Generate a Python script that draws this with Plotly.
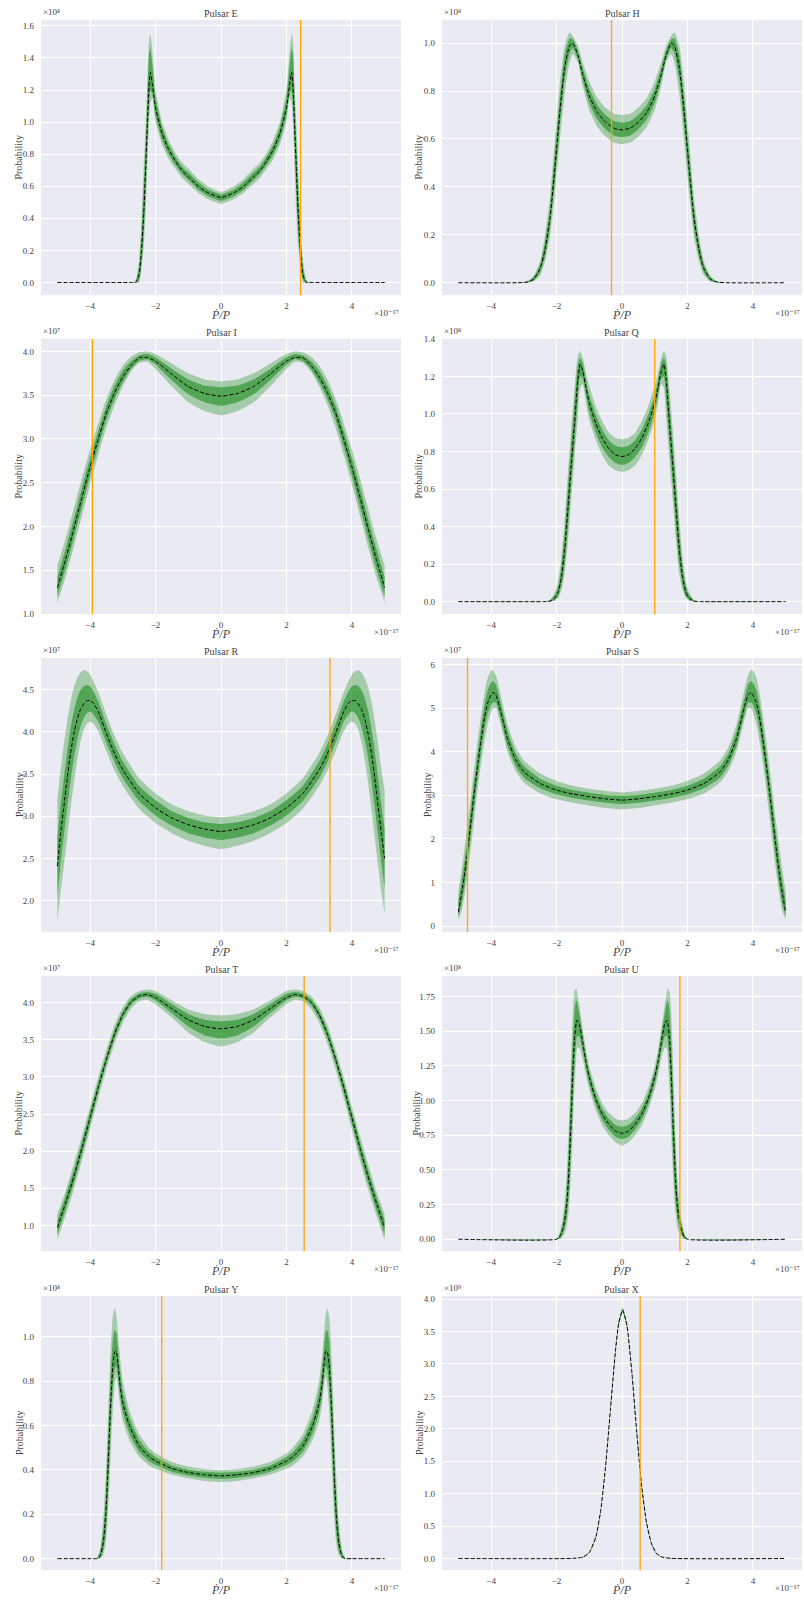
import plotly.graph_objects as go
from plotly.subplots import make_subplots

# ---------------- data (x in units of 1e-17, y in units of 10^exp) ----------------
panel_names = ["Pulsar E", "Pulsar H", "Pulsar I", "Pulsar Q", "Pulsar R",
               "Pulsar S", "Pulsar T", "Pulsar U", "Pulsar Y", "Pulsar X"]
orange_x = [2.43, -0.32, -3.93, 1.0, 3.33, -4.72, 2.54, 1.77, -1.81, 0.555]
y_exponents = ["⁸", "⁸", "⁷", "⁸", "⁷", "⁷", "⁷", "⁸", "⁸", "⁹"]
x_exponent = "×10⁻¹⁷"
x_ticks = [-4, -2, 0, 2, 4]

E_x = [-5, -3, -2.7, -2.6, -2.5, -2.43, -2.36, -2.3, -2.25, -2.2, -2.16, -2.1, -2.0, -1.8, -1.6, -1.4, -1.2, -1.0, -0.7, -0.4,
       0, 0.4, 0.7, 1.0, 1.2, 1.4, 1.6, 1.8, 2.0, 2.1, 2.16, 2.2, 2.25, 2.3, 2.36, 2.43, 2.5, 2.6, 2.7, 3, 5]
E_med = [0, 0, 0, 0, 0.05, 0.2, 0.43, 0.72, 0.98, 1.22, 1.31, 1.24, 1.09, 0.93, 0.83, 0.76, 0.70, 0.66, 0.60, 0.56,
         0.53, 0.56, 0.60, 0.66, 0.70, 0.76, 0.83, 0.93, 1.09, 1.24, 1.31, 1.22, 0.98, 0.72, 0.43, 0.2, 0.05, 0, 0, 0, 0]
E_out_hi = [0, 0, 0, 0.02, 0.15, 0.38, 0.72, 1.0, 1.25, 1.50, 1.55, 1.45, 1.2, 1.0, 0.89, 0.81, 0.75, 0.71, 0.645, 0.60,
            0.565, 0.60, 0.645, 0.71, 0.75, 0.81, 0.89, 1.0, 1.2, 1.45, 1.55, 1.50, 1.25, 1.0, 0.72, 0.38, 0.15, 0.02, 0, 0, 0]
E_out_lo = [0, 0, 0, 0, 0, 0.08, 0.22, 0.45, 0.72, 0.98, 1.12, 1.15, 1.0, 0.86, 0.77, 0.71, 0.655, 0.615, 0.56, 0.52,
            0.49, 0.52, 0.56, 0.615, 0.655, 0.71, 0.77, 0.86, 1.0, 1.15, 1.12, 0.98, 0.72, 0.45, 0.22, 0.08, 0, 0, 0, 0, 0]
E_in_hi = [0, 0, 0, 0.01, 0.1, 0.3, 0.6, 0.88, 1.15, 1.42, 1.46, 1.36, 1.15, 0.97, 0.86, 0.785, 0.725, 0.685, 0.625, 0.58,
           0.55, 0.58, 0.625, 0.685, 0.725, 0.785, 0.86, 0.97, 1.15, 1.36, 1.46, 1.42, 1.15, 0.88, 0.6, 0.3, 0.1, 0.01, 0, 0, 0]
E_in_lo = [0, 0, 0, 0, 0.02, 0.12, 0.3, 0.57, 0.85, 1.08, 1.2, 1.18, 1.04, 0.89, 0.80, 0.735, 0.68, 0.64, 0.58, 0.54,
           0.51, 0.54, 0.58, 0.64, 0.68, 0.735, 0.80, 0.89, 1.04, 1.18, 1.2, 1.08, 0.85, 0.57, 0.3, 0.12, 0.02, 0, 0, 0, 0]

H_x = [-5, -3.2, -2.9, -2.7, -2.5, -2.35, -2.2, -2.05, -1.9, -1.75, -1.6, -1.5, -1.35, -1.2, -1.0, -0.75, -0.5, -0.25,
       0, 0.25, 0.5, 0.75, 1.0, 1.2, 1.35, 1.5, 1.6, 1.75, 1.9, 2.05, 2.2, 2.35, 2.5, 2.7, 2.9, 3.2, 5]
H_med = [0, 0, 0.003, 0.015, 0.06, 0.14, 0.27, 0.48, 0.71, 0.90, 0.99, 1.0, 0.95, 0.87, 0.78, 0.71, 0.67, 0.645,
         0.638, 0.645, 0.67, 0.71, 0.78, 0.87, 0.95, 1.0, 0.99, 0.90, 0.71, 0.48, 0.27, 0.14, 0.06, 0.015, 0.003, 0, 0]
H_out_hi = [0, 0, 0.006, 0.03, 0.09, 0.2, 0.36, 0.6, 0.83, 0.99, 1.045, 1.03, 0.99, 0.92, 0.84, 0.77, 0.73, 0.705,
            0.70, 0.705, 0.73, 0.77, 0.84, 0.92, 0.99, 1.03, 1.045, 0.99, 0.83, 0.6, 0.36, 0.2, 0.09, 0.03, 0.006, 0, 0]
H_out_lo = [0, 0, 0, 0.005, 0.03, 0.09, 0.19, 0.37, 0.59, 0.79, 0.92, 0.955, 0.92, 0.82, 0.72, 0.65, 0.61, 0.585,
            0.578, 0.585, 0.61, 0.65, 0.72, 0.82, 0.92, 0.955, 0.92, 0.79, 0.59, 0.37, 0.19, 0.09, 0.03, 0.005, 0, 0, 0]
H_in_hi = [0, 0, 0.004, 0.022, 0.075, 0.17, 0.31, 0.54, 0.77, 0.95, 1.02, 1.015, 0.97, 0.895, 0.81, 0.74, 0.70, 0.675,
           0.668, 0.675, 0.70, 0.74, 0.81, 0.895, 0.97, 1.015, 1.02, 0.95, 0.77, 0.54, 0.31, 0.17, 0.075, 0.022, 0.004, 0, 0]
H_in_lo = [0, 0, 0.001, 0.009, 0.045, 0.11, 0.23, 0.42, 0.65, 0.85, 0.96, 0.98, 0.935, 0.845, 0.75, 0.68, 0.64, 0.615,
           0.608, 0.615, 0.64, 0.68, 0.75, 0.845, 0.935, 0.98, 0.96, 0.85, 0.65, 0.42, 0.23, 0.11, 0.045, 0.009, 0.001, 0, 0]

I_x = [-5, -4.75, -4.5, -4.25, -4.0, -3.75, -3.5, -3.25, -3.0, -2.75, -2.5, -2.25, -2.0, -1.5, -1.0, -0.5,
       0, 0.5, 1.0, 1.5, 2.0, 2.25, 2.5, 2.75, 3.0, 3.25, 3.5, 3.75, 4.0, 4.25, 4.5, 4.75, 5]
I_med = [1.30, 1.62, 1.97, 2.33, 2.68, 3.0, 3.3, 3.53, 3.71, 3.84, 3.93, 3.93, 3.89, 3.74, 3.60, 3.52,
         3.49, 3.52, 3.60, 3.74, 3.89, 3.93, 3.93, 3.84, 3.71, 3.53, 3.3, 3.0, 2.68, 2.33, 1.97, 1.62, 1.30]
I_out_hi = [1.55, 1.86, 2.2, 2.55, 2.88, 3.18, 3.46, 3.68, 3.84, 3.94, 3.99, 4.0, 3.97, 3.86, 3.75, 3.68,
            3.66, 3.68, 3.75, 3.86, 3.97, 4.0, 3.99, 3.94, 3.84, 3.68, 3.46, 3.18, 2.88, 2.55, 2.2, 1.86, 1.55]
I_out_lo = [1.13, 1.42, 1.76, 2.12, 2.48, 2.82, 3.13, 3.39, 3.6, 3.77, 3.87, 3.88, 3.8, 3.6, 3.42, 3.32,
            3.27, 3.32, 3.42, 3.6, 3.8, 3.88, 3.87, 3.77, 3.6, 3.39, 3.13, 2.82, 2.48, 2.12, 1.76, 1.42, 1.13]
I_in_hi = [1.42, 1.74, 2.08, 2.44, 2.78, 3.09, 3.38, 3.61, 3.78, 3.89, 3.955, 3.97, 3.93, 3.8, 3.68, 3.61,
           3.59, 3.61, 3.68, 3.8, 3.93, 3.97, 3.955, 3.89, 3.78, 3.61, 3.38, 3.09, 2.78, 2.44, 2.08, 1.74, 1.42]
I_in_lo = [1.2, 1.51, 1.86, 2.22, 2.58, 2.91, 3.22, 3.46, 3.65, 3.8, 3.89, 3.91, 3.85, 3.67, 3.51, 3.42,
           3.38, 3.42, 3.51, 3.67, 3.85, 3.91, 3.89, 3.8, 3.65, 3.46, 3.22, 2.91, 2.58, 2.22, 1.86, 1.51, 1.2]

Q_x = [-5, -2.4, -2.2, -2.05, -1.95, -1.85, -1.75, -1.65, -1.55, -1.45, -1.35, -1.28, -1.2, -1.1, -1.0, -0.8, -0.6, -0.4, -0.2,
       0, 0.2, 0.4, 0.6, 0.8, 1.0, 1.1, 1.2, 1.28, 1.35, 1.45, 1.55, 1.65, 1.75, 1.85, 1.95, 2.05, 2.2, 2.4, 5]
Q_med = [0, 0, 0.002, 0.02, 0.05, 0.13, 0.28, 0.5, 0.73, 0.95, 1.18, 1.265, 1.23, 1.14, 1.06, 0.95, 0.87, 0.815, 0.783,
         0.773, 0.783, 0.815, 0.87, 0.95, 1.06, 1.14, 1.23, 1.265, 1.18, 0.95, 0.73, 0.5, 0.28, 0.13, 0.05, 0.02, 0.002, 0, 0]
Q_out_hi = [0, 0, 0.01, 0.05, 0.11, 0.24, 0.44, 0.69, 0.92, 1.14, 1.31, 1.335, 1.3, 1.22, 1.15, 1.04, 0.96, 0.90, 0.872,
            0.865, 0.872, 0.90, 0.96, 1.04, 1.15, 1.22, 1.3, 1.335, 1.31, 1.14, 0.92, 0.69, 0.44, 0.24, 0.11, 0.05, 0.01, 0, 0]
Q_out_lo = [0, 0, 0, 0.005, 0.02, 0.06, 0.15, 0.32, 0.54, 0.76, 0.98, 1.14, 1.16, 1.06, 0.97, 0.86, 0.78, 0.725, 0.70,
            0.692, 0.70, 0.725, 0.78, 0.86, 0.97, 1.06, 1.16, 1.14, 0.98, 0.76, 0.54, 0.32, 0.15, 0.06, 0.02, 0.005, 0, 0, 0]
Q_in_hi = [0, 0, 0.006, 0.035, 0.08, 0.19, 0.37, 0.61, 0.84, 1.06, 1.26, 1.3, 1.27, 1.18, 1.1, 0.995, 0.915, 0.86, 0.83,
           0.822, 0.83, 0.86, 0.915, 0.995, 1.1, 1.18, 1.27, 1.3, 1.26, 1.06, 0.84, 0.61, 0.37, 0.19, 0.08, 0.035, 0.006, 0, 0]
Q_in_lo = [0, 0, 0, 0.01, 0.03, 0.09, 0.2, 0.4, 0.63, 0.85, 1.08, 1.2, 1.19, 1.1, 1.01, 0.9, 0.82, 0.77, 0.738,
           0.728, 0.738, 0.77, 0.82, 0.9, 1.01, 1.1, 1.19, 1.2, 1.08, 0.85, 0.63, 0.4, 0.2, 0.09, 0.03, 0.01, 0, 0, 0]

R_x = [-5, -4.9, -4.8, -4.7, -4.6, -4.5, -4.4, -4.3, -4.2, -4.1, -4.0, -3.9, -3.75, -3.5, -3.25, -3.0, -2.5, -2.0, -1.5, -1.0, -0.5,
       0, 0.5, 1.0, 1.5, 2.0, 2.5, 3.0, 3.25, 3.5, 3.75, 3.9, 4.0, 4.1, 4.2, 4.3, 4.4, 4.5, 4.6, 4.7, 4.8, 4.9, 5]
R_med = [2.41, 2.8, 3.12, 3.45, 3.74, 3.97, 4.14, 4.26, 4.33, 4.37, 4.37, 4.34, 4.24, 3.98, 3.74, 3.55, 3.27, 3.10, 2.98, 2.90, 2.85,
         2.82, 2.85, 2.90, 2.98, 3.10, 3.27, 3.55, 3.74, 3.98, 4.24, 4.34, 4.37, 4.37, 4.33, 4.26, 4.14, 3.97, 3.74, 3.45, 3.12, 2.8, 2.5]
R_out_hi = [3.2, 3.55, 3.85, 4.12, 4.35, 4.52, 4.63, 4.70, 4.73, 4.72, 4.68, 4.6, 4.47, 4.2, 3.95, 3.75, 3.45, 3.27, 3.14, 3.06, 3.01,
            2.99, 3.01, 3.06, 3.14, 3.27, 3.45, 3.75, 3.95, 4.2, 4.47, 4.6, 4.68, 4.72, 4.73, 4.70, 4.63, 4.52, 4.35, 4.12, 3.85, 3.55, 3.3]
R_out_lo = [1.76, 2.1, 2.42, 2.75, 3.08, 3.38, 3.65, 3.87, 4.02, 4.1, 4.12, 4.1, 4.01, 3.77, 3.54, 3.36, 3.09, 2.92, 2.8, 2.71, 2.65,
            2.61, 2.65, 2.71, 2.8, 2.92, 3.09, 3.36, 3.54, 3.77, 4.01, 4.1, 4.12, 4.1, 4.02, 3.87, 3.65, 3.38, 3.08, 2.75, 2.42, 2.1, 1.85]
R_in_hi = [2.75, 3.13, 3.45, 3.76, 4.03, 4.24, 4.39, 4.49, 4.54, 4.555, 4.54, 4.48, 4.36, 4.09, 3.85, 3.65, 3.36, 3.19, 3.06, 2.98, 2.93,
           2.91, 2.93, 2.98, 3.06, 3.19, 3.36, 3.65, 3.85, 4.09, 4.36, 4.48, 4.54, 4.555, 4.54, 4.49, 4.39, 4.24, 4.03, 3.76, 3.45, 3.13, 2.85]
R_in_lo = [2.05, 2.45, 2.78, 3.1, 3.41, 3.68, 3.89, 4.05, 4.16, 4.22, 4.24, 4.21, 4.12, 3.87, 3.64, 3.45, 3.18, 3.01, 2.89, 2.8, 2.75,
           2.72, 2.75, 2.8, 2.89, 3.01, 3.18, 3.45, 3.64, 3.87, 4.12, 4.21, 4.24, 4.22, 4.16, 4.05, 3.89, 3.68, 3.41, 3.1, 2.78, 2.45, 2.15]

S_x = [-5, -4.9, -4.8, -4.7, -4.6, -4.5, -4.4, -4.3, -4.2, -4.1, -4.0, -3.95, -3.85, -3.75, -3.6, -3.5, -3.25, -3.0, -2.5, -2.0, -1.5, -1.0, -0.5,
       0, 0.5, 1.0, 1.5, 2.0, 2.5, 3.0, 3.25, 3.5, 3.6, 3.75, 3.85, 3.95, 4.0, 4.1, 4.2, 4.3, 4.4, 4.5, 4.6, 4.7, 4.8, 4.9, 5]
S_med = [0.32, 0.75, 1.25, 1.85, 2.5, 3.15, 3.75, 4.3, 4.8, 5.13, 5.3, 5.36, 5.3, 5.05, 4.6, 4.3, 3.82, 3.54, 3.27, 3.12, 3.03, 2.97, 2.92,
         2.89, 2.92, 2.97, 3.03, 3.12, 3.27, 3.54, 3.82, 4.3, 4.6, 5.05, 5.3, 5.36, 5.3, 5.13, 4.8, 4.3, 3.75, 3.15, 2.5, 1.85, 1.25, 0.75, 0.32]
S_out_hi = [0.8, 1.3, 1.85, 2.45, 3.1, 3.72, 4.3, 4.85, 5.35, 5.7, 5.86, 5.87, 5.75, 5.45, 4.95, 4.63, 4.1, 3.8, 3.5, 3.33, 3.22, 3.15, 3.1,
            3.07, 3.1, 3.15, 3.22, 3.33, 3.5, 3.8, 4.1, 4.63, 4.95, 5.45, 5.75, 5.87, 5.86, 5.7, 5.35, 4.85, 4.3, 3.72, 3.1, 2.45, 1.85, 1.3, 0.8]
S_out_lo = [0.15, 0.35, 0.75, 1.3, 1.9, 2.55, 3.2, 3.75, 4.25, 4.65, 4.9, 4.98, 5.0, 4.75, 4.3, 4.0, 3.56, 3.3, 3.04, 2.91, 2.83, 2.77, 2.71,
            2.68, 2.71, 2.77, 2.83, 2.91, 3.04, 3.3, 3.56, 4.0, 4.3, 4.75, 5.0, 4.98, 4.9, 4.65, 4.25, 3.75, 3.2, 2.55, 1.9, 1.3, 0.75, 0.35, 0.15]
S_in_hi = [0.6, 1.02, 1.55, 2.15, 2.8, 3.42, 4.02, 4.57, 5.08, 5.42, 5.58, 5.62, 5.53, 5.25, 4.78, 4.47, 3.96, 3.67, 3.38, 3.22, 3.12, 3.06, 3.01,
           2.99, 3.01, 3.06, 3.12, 3.22, 3.38, 3.67, 3.96, 4.47, 4.78, 5.25, 5.53, 5.62, 5.58, 5.42, 5.08, 4.57, 4.02, 3.42, 2.8, 2.15, 1.55, 1.02, 0.6]
S_in_lo = [0.22, 0.52, 0.98, 1.56, 2.2, 2.85, 3.47, 4.02, 4.52, 4.88, 5.07, 5.13, 5.12, 4.88, 4.43, 4.13, 3.68, 3.41, 3.16, 3.02, 2.94, 2.88, 2.83,
           2.8, 2.83, 2.88, 2.94, 3.02, 3.16, 3.41, 3.68, 4.13, 4.43, 4.88, 5.12, 5.13, 5.07, 4.88, 4.52, 4.02, 3.47, 2.85, 2.2, 1.56, 0.98, 0.52, 0.22]

T_x = [-5, -4.75, -4.5, -4.25, -4.0, -3.75, -3.5, -3.25, -3.0, -2.75, -2.5, -2.25, -2.0, -1.5, -1.0, -0.5,
       0, 0.5, 1.0, 1.5, 2.0, 2.25, 2.5, 2.75, 3.0, 3.25, 3.5, 3.75, 4.0, 4.25, 4.5, 4.75, 5]
T_med = [0.97, 1.3, 1.65, 2.04, 2.45, 2.86, 3.24, 3.58, 3.84, 4.01, 4.09, 4.11, 4.07, 3.92, 3.77, 3.68,
         3.65, 3.68, 3.77, 3.92, 4.07, 4.11, 4.09, 4.01, 3.84, 3.58, 3.24, 2.86, 2.45, 2.04, 1.65, 1.3, 0.97]
T_out_hi = [1.15, 1.46, 1.82, 2.2, 2.6, 3.0, 3.37, 3.7, 3.94, 4.09, 4.16, 4.18, 4.16, 4.03, 3.91, 3.85,
            3.83, 3.85, 3.91, 4.03, 4.16, 4.18, 4.16, 4.09, 3.94, 3.7, 3.37, 3.0, 2.6, 2.2, 1.82, 1.46, 1.15]
T_out_lo = [0.8, 1.13, 1.48, 1.87, 2.29, 2.71, 3.1, 3.45, 3.73, 3.92, 4.02, 4.04, 3.98, 3.8, 3.6, 3.47,
            3.41, 3.47, 3.6, 3.8, 3.98, 4.04, 4.02, 3.92, 3.73, 3.45, 3.1, 2.71, 2.29, 1.87, 1.48, 1.13, 0.8]
T_in_hi = [1.07, 1.39, 1.74, 2.12, 2.53, 2.93, 3.3, 3.64, 3.89, 4.05, 4.125, 4.145, 4.12, 3.98, 3.85, 3.77,
           3.75, 3.77, 3.85, 3.98, 4.12, 4.145, 4.125, 4.05, 3.89, 3.64, 3.3, 2.93, 2.53, 2.12, 1.74, 1.39, 1.07]
T_in_lo = [0.87, 1.21, 1.56, 1.95, 2.37, 2.79, 3.18, 3.52, 3.79, 3.97, 4.06, 4.08, 4.03, 3.86, 3.68, 3.56,
           3.52, 3.56, 3.68, 3.86, 4.03, 4.08, 4.06, 3.97, 3.79, 3.52, 3.18, 2.79, 2.37, 1.95, 1.56, 1.21, 0.87]

U_x = [-5, -2.0, -1.9, -1.8, -1.7, -1.62, -1.55, -1.5, -1.45, -1.4, -1.37, -1.3, -1.2, -1.1, -1.0, -0.8, -0.6, -0.4, -0.2,
       0, 0.2, 0.4, 0.6, 0.8, 1.0, 1.1, 1.2, 1.3, 1.37, 1.4, 1.45, 1.5, 1.55, 1.62, 1.7, 1.8, 1.9, 2.0, 5]
U_med = [0, 0, 0.02, 0.08, 0.22, 0.5, 0.9, 1.22, 1.45, 1.56, 1.58, 1.55, 1.42, 1.28, 1.17, 1.01, 0.9, 0.83, 0.78,
         0.765, 0.78, 0.83, 0.9, 1.01, 1.17, 1.28, 1.42, 1.55, 1.58, 1.56, 1.45, 1.22, 0.9, 0.5, 0.22, 0.08, 0.02, 0, 0]
U_out_hi = [0, 0.005, 0.05, 0.17, 0.42, 0.85, 1.35, 1.65, 1.79, 1.81, 1.78, 1.68, 1.52, 1.37, 1.25, 1.09, 0.98, 0.91, 0.87,
            0.858, 0.87, 0.91, 0.98, 1.09, 1.25, 1.37, 1.52, 1.68, 1.78, 1.81, 1.79, 1.65, 1.35, 0.85, 0.42, 0.17, 0.05, 0.005, 0]
U_out_lo = [0, 0, 0, 0.02, 0.08, 0.22, 0.5, 0.8, 1.1, 1.3, 1.38, 1.38, 1.3, 1.18, 1.08, 0.93, 0.82, 0.75, 0.70,
            0.675, 0.70, 0.75, 0.82, 0.93, 1.08, 1.18, 1.3, 1.38, 1.38, 1.3, 1.1, 0.8, 0.5, 0.22, 0.08, 0.02, 0, 0, 0]
U_in_hi = [0, 0.002, 0.035, 0.12, 0.32, 0.7, 1.15, 1.45, 1.65, 1.72, 1.71, 1.62, 1.47, 1.32, 1.21, 1.05, 0.94, 0.87, 0.825,
           0.812, 0.825, 0.87, 0.94, 1.05, 1.21, 1.32, 1.47, 1.62, 1.71, 1.72, 1.65, 1.45, 1.15, 0.7, 0.32, 0.12, 0.035, 0.002, 0]
U_in_lo = [0, 0, 0.005, 0.045, 0.14, 0.33, 0.68, 1.0, 1.27, 1.43, 1.47, 1.46, 1.36, 1.23, 1.12, 0.97, 0.86, 0.79, 0.74,
           0.723, 0.74, 0.79, 0.86, 0.97, 1.12, 1.23, 1.36, 1.46, 1.47, 1.43, 1.27, 1.0, 0.68, 0.33, 0.14, 0.045, 0.005, 0, 0]

Y_x = [-5, -4, -3.8, -3.7, -3.6, -3.52, -3.46, -3.4, -3.35, -3.3, -3.25, -3.2, -3.15, -3.1, -3.0, -2.8, -2.5, -2.2, -2.0, -1.5, -1.0, -0.5,
       0, 0.5, 1.0, 1.5, 2.0, 2.2, 2.5, 2.8, 3.0, 3.1, 3.15, 3.2, 3.25, 3.3, 3.35, 3.4, 3.46, 3.52, 3.6, 3.7, 3.8, 4, 5]
Y_med = [0, 0, 0, 0.01, 0.07, 0.2, 0.38, 0.6, 0.76, 0.88, 0.93, 0.935, 0.88, 0.8, 0.70, 0.60, 0.507, 0.46, 0.44, 0.406, 0.388, 0.378,
         0.373, 0.378, 0.388, 0.406, 0.44, 0.46, 0.507, 0.60, 0.70, 0.8, 0.88, 0.935, 0.93, 0.88, 0.76, 0.6, 0.38, 0.2, 0.07, 0.01, 0, 0, 0]
Y_out_hi = [0, 0, 0.003, 0.04, 0.17, 0.38, 0.6, 0.84, 1.0, 1.1, 1.127, 1.1, 1.02, 0.93, 0.8, 0.67, 0.56, 0.5, 0.475, 0.435, 0.415, 0.404,
            0.399, 0.404, 0.415, 0.435, 0.475, 0.5, 0.56, 0.67, 0.8, 0.93, 1.02, 1.1, 1.127, 1.1, 1.0, 0.84, 0.6, 0.38, 0.17, 0.04, 0.003, 0, 0]
Y_out_lo = [0, 0, 0, 0, 0.015, 0.07, 0.18, 0.36, 0.53, 0.68, 0.78, 0.82, 0.78, 0.71, 0.62, 0.535, 0.46, 0.42, 0.405, 0.378, 0.362, 0.35,
            0.345, 0.35, 0.362, 0.378, 0.405, 0.42, 0.46, 0.535, 0.62, 0.71, 0.78, 0.82, 0.78, 0.68, 0.53, 0.36, 0.18, 0.07, 0.015, 0, 0, 0, 0]
Y_in_hi = [0, 0, 0.001, 0.025, 0.12, 0.29, 0.5, 0.72, 0.88, 0.99, 1.03, 1.02, 0.95, 0.87, 0.75, 0.635, 0.535, 0.48, 0.458, 0.42, 0.401, 0.391,
           0.387, 0.391, 0.401, 0.42, 0.458, 0.48, 0.535, 0.635, 0.75, 0.87, 0.95, 1.02, 1.03, 0.99, 0.88, 0.72, 0.5, 0.29, 0.12, 0.025, 0.001, 0, 0]
Y_in_lo = [0, 0, 0, 0.003, 0.035, 0.12, 0.27, 0.48, 0.65, 0.78, 0.85, 0.87, 0.82, 0.75, 0.66, 0.565, 0.482, 0.44, 0.422, 0.392, 0.375, 0.365,
           0.36, 0.365, 0.375, 0.392, 0.422, 0.44, 0.482, 0.565, 0.66, 0.75, 0.82, 0.87, 0.85, 0.78, 0.65, 0.48, 0.27, 0.12, 0.035, 0.003, 0, 0, 0]

X_x = [-5, -1.5, -1.2, -1.0, -0.8, -0.65, -0.5, -0.35, -0.2, -0.1, 0.02, 0.15, 0.3, 0.45, 0.6, 0.75, 0.9, 1.05, 1.2, 1.5, 5]
X_med = [0, 0.002, 0.02, 0.09, 0.33, 0.74, 1.43, 2.32, 3.2, 3.63, 3.83, 3.6, 2.88, 1.95, 1.12, 0.55, 0.23, 0.08, 0.025, 0.002, 0]
X_out_hi = [0, 0.003, 0.025, 0.1, 0.35, 0.77, 1.47, 2.37, 3.25, 3.67, 3.87, 3.64, 2.93, 2.0, 1.16, 0.58, 0.25, 0.09, 0.03, 0.003, 0]
X_out_lo = [0, 0.001, 0.015, 0.08, 0.31, 0.71, 1.39, 2.27, 3.15, 3.59, 3.79, 3.56, 2.83, 1.9, 1.08, 0.52, 0.21, 0.07, 0.02, 0.001, 0]
X_in_hi = [0, 0.0025, 0.022, 0.095, 0.34, 0.755, 1.45, 2.345, 3.225, 3.65, 3.85, 3.62, 2.905, 1.975, 1.14, 0.565, 0.24, 0.085, 0.027, 0.0025, 0]
X_in_lo = [0, 0.0015, 0.018, 0.085, 0.32, 0.725, 1.41, 2.295, 3.175, 3.61, 3.81, 3.58, 2.855, 1.925, 1.1, 0.535, 0.22, 0.075, 0.023, 0.0015, 0]

# ---------------- layout settings ----------------
y_ranges = [(-0.079, 1.637), (-0.052, 1.097), (0.997, 4.144), (-0.067, 1.40), (1.628, 4.876),
            (-0.136, 6.15), (0.652, 4.362), (-0.086, 1.90), (-0.052, 1.184), (-0.18, 4.05)]
y_dticks = [0.2, 0.2, 0.5, 0.2, 0.5, 1, 0.5, 0.25, 0.2, 0.5]
y_formats = [".1f", ".1f", ".1f", ".1f", ".1f", "d", ".1f", ".2f", ".1f", ".1f"]
ylabel_px = [19, 419, 19, 419, 19, 427, 19, 417, 19, 419]

W, H = 804, 1601
cols_px = [(41, 401), (442, 802)]
rows_px = [(15, 292), (336, 613), (657, 933), (977, 1254), (1299, 1575)]

series = [
    (E_x, E_med, E_in_lo, E_in_hi, E_out_lo, E_out_hi),
    (H_x, H_med, H_in_lo, H_in_hi, H_out_lo, H_out_hi),
    (I_x, I_med, I_in_lo, I_in_hi, I_out_lo, I_out_hi),
    (Q_x, Q_med, Q_in_lo, Q_in_hi, Q_out_lo, Q_out_hi),
    (R_x, R_med, R_in_lo, R_in_hi, R_out_lo, R_out_hi),
    (S_x, S_med, S_in_lo, S_in_hi, S_out_lo, S_out_hi),
    (T_x, T_med, T_in_lo, T_in_hi, T_out_lo, T_out_hi),
    (U_x, U_med, U_in_lo, U_in_hi, U_out_lo, U_out_hi),
    (Y_x, Y_med, Y_in_lo, Y_in_hi, Y_out_lo, Y_out_hi),
    (X_x, X_med, X_in_lo, X_in_hi, X_out_lo, X_out_hi),
]

FONT = "Liberation Serif, DejaVu Serif, serif"
TXT = "#444444"

fig = make_subplots(rows=5, cols=2, horizontal_spacing=0.05, vertical_spacing=0.03)

annotations = []
for i, (x, med, ilo, ihi, olo, ohi) in enumerate(series):
    r, c = i // 2 + 1, i % 2 + 1
    base = dict(x=x, mode="lines", hoverinfo="skip", showlegend=False)
    edge = dict(width=0, shape="spline", smoothing=0.5)
    fig.add_trace(go.Scatter(y=olo, line=edge, **base), row=r, col=c)
    fig.add_trace(go.Scatter(y=ohi, line=edge, fill="tonexty",
                             fillcolor="rgba(0,128,0,0.3)", **base), row=r, col=c)
    fig.add_trace(go.Scatter(y=ilo, line=edge, **base), row=r, col=c)
    fig.add_trace(go.Scatter(y=ihi, line=edge, fill="tonexty",
                             fillcolor="rgba(0,128,0,0.5)", **base), row=r, col=c)
    fig.add_trace(go.Scatter(y=med, line=dict(color="black", width=1, dash="4px,2px",
                                              shape="spline", smoothing=0.5), **base), row=r, col=c)
    fig.add_vline(x=orange_x[i], line=dict(color="orange", width=1.3), row=r, col=c)

    lpx, rpx = cols_px[c - 1]
    tpx, bpx = rows_px[r - 1]
    sfx = "" if i == 0 else str(i + 1)
    fig.layout["xaxis" + sfx].update(
        domain=[lpx / W, rpx / W], range=[-5.5, 5.5], tickvals=x_ticks,
        showgrid=True, gridcolor="white", gridwidth=1, zeroline=False, showline=False,
        ticks="", ticklabelstandoff=4,
        tickfont=dict(family=FONT, size=9, color=TXT))
    fig.layout["yaxis" + sfx].update(
        domain=[1 - bpx / H, 1 - tpx / H], range=list(y_ranges[i]),
        tick0=0, dtick=y_dticks[i], tickformat=y_formats[i],
        showgrid=True, gridcolor="white", gridwidth=1, zeroline=False, showline=False,
        ticks="", ticklabelstandoff=6,
        tickfont=dict(family=FONT, size=9, color=TXT))

    cx = (lpx + rpx) / 2
    annotations += [
        dict(text=panel_names[i], x=cx / W, y=1 - (tpx - 6) / H, xref="paper", yref="paper",
             xanchor="center", yanchor="middle", showarrow=False,
             font=dict(family=FONT, size=10, color=TXT)),
        dict(text="×10" + y_exponents[i], x=lpx / W, y=1 - (tpx - 1) / H,
             xref="paper", yref="paper", xanchor="left", yanchor="bottom", showarrow=False,
             font=dict(family=FONT, size=9, color=TXT)),
        dict(text="Probability", x=ylabel_px[i] / W, y=1 - (tpx + bpx) / 2 / H, xref="paper",
             yref="paper", xanchor="center", yanchor="middle", textangle=-90, showarrow=False,
             font=dict(family=FONT, size=10, color=TXT)),
        dict(text="Ṗ/P", x=cx / W, y=1 - (bpx + 20) / H, xref="paper", yref="paper",
             xanchor="center", yanchor="middle", showarrow=False,
             font=dict(family=FONT, size=12, color=TXT, style="italic")),
        dict(text=x_exponent, x=rpx / W, y=1 - (bpx + 18) / H, xref="paper", yref="paper",
             xanchor="right", yanchor="middle", showarrow=False,
             font=dict(family=FONT, size=9, color=TXT)),
    ]

fig.update_layout(
    width=W, height=H, margin=dict(l=0, r=0, t=0, b=0),
    paper_bgcolor="white", plot_bgcolor="#EAEAF2",
    showlegend=False, annotations=annotations,
    font=dict(family=FONT, color=TXT),
)

fig.write_html("out.html")
